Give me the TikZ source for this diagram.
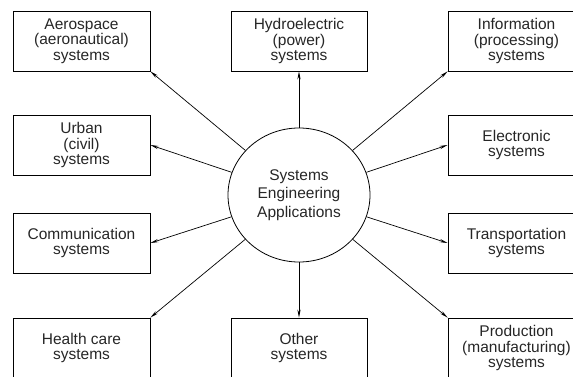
\documentclass[tikz,border=0pt]{standalone}
\usepackage{fontspec}
\setmainfont{Liberation Sans}
\usetikzlibrary{arrows.meta,shapes.geometric}
\begin{document}
\begin{tikzpicture}[x=1pt,y=-1pt,
  txt/.style={font=\fontsize{15.5}{15.5}\selectfont, text=black!85},
  box/.style={txt, draw, line width=0.8pt, minimum width=137pt, minimum height=60pt, align=center, inner sep=0pt},
  hub/.style={txt, draw, ellipse, line width=0.8pt, minimum width=142pt, minimum height=134pt, align=center, inner sep=0pt, font=\fontsize{15.5}{18.5}\selectfont},
  arr/.style={-{Stealth[length=8pt,width=3.2pt]}, line width=0.7pt}]
\useasboundingbox (0,0) rectangle (573,377);
\clip (0,0) rectangle (573,377);
% left column
\node[box] (aero)   at (81.5,41)  {Aerospace\\(aeronautical)\\systems};
\node[box] (urban)  at (81.5,145) {Urban\\(civil)\\systems};
\node[box] (comm)   at (81.5,243) {Communication\\systems};
\node[box] (health) at (81.5,348) {Health care\\systems};
% middle column
\node[box, minimum width=136pt] (hydro) at (299,41)  {Hydroelectric\\(power)\\systems};
\node[box, minimum width=136pt] (other) at (299,348) {Other\\systems};
% right column
\node[box] (info)  at (516.5,41)  {Information\\(processing)\\systems};
\node[box] (elec)  at (516.5,145) {Electronic\\systems};
\node[box] (trans) at (516.5,243) {Transportation\\systems};
\node[box] (prod)  at (516.5,348) {Production\\(manufacturing)\\systems};
% hub
\node[hub] (c) at (299,195) {Systems\\Engineering\\Applications};
% connectors
\draw[arr] (c) -- (aero.south east);
\draw[arr] (c) -- (hydro.south);
\draw[arr] (c) -- (info.south west);
\draw[arr] (c) -- (urban.east);
\draw[arr] (c) -- (elec.west);
\draw[arr] (c) -- (comm.east);
\draw[arr] (c) -- (trans.west);
\draw[arr] (c) -- (health.north east);
\draw[arr] (c) -- (other.north);
\draw[arr] (c) -- (prod.north west);
\end{tikzpicture}
\end{document}
